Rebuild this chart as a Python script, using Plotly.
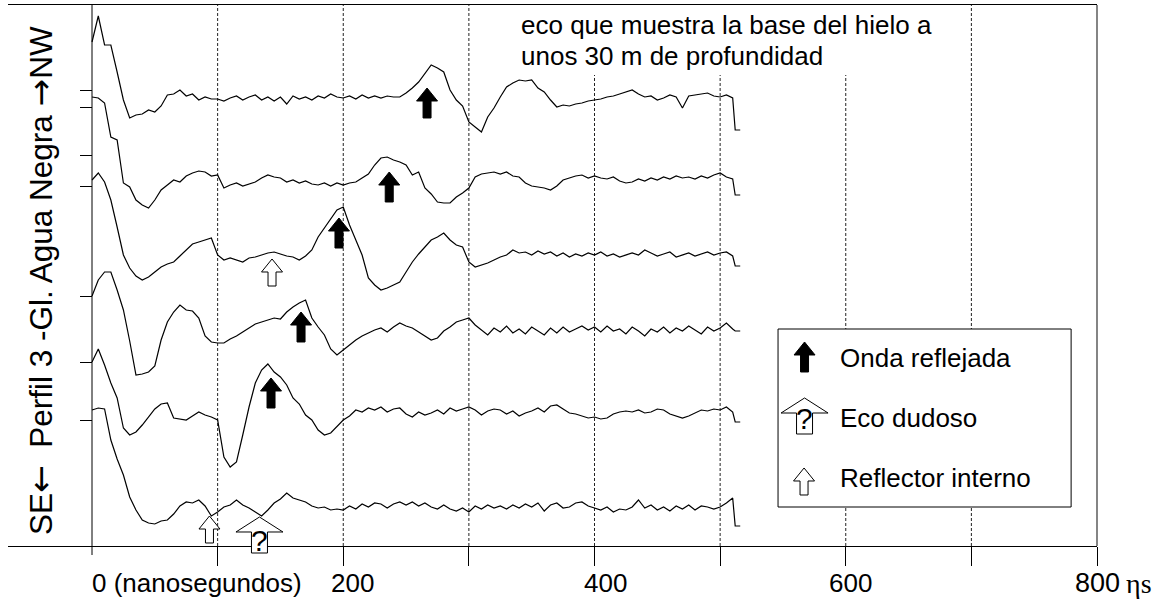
import plotly.graph_objects as go

# ---------------- data ----------------
time_ns = list(range(0, 511, 5)) + [512, 516]

amp_t1 = [56, 82, 53, 53, 26, -2, -20, -17, -16, -12,
          -14, -8, 3, 4, 8, 2, 4, -2, 1, -1,
          -1, -3, 0, 2, -2, 1, 3, -2, 1, -3,
          1, -6, 2, -1, 1, -2, 2, 0, 4, 1,
          0, 2, -1, 3, 0, 2, 0, 2, 1, 1,
          5, 10, 16, 25, 33, 30, 26, 8, -2, -8,
          -24, -29, -34, -19, -10, 1, 11, 15, 18, 17,
          18, 10, 6, -2, -9, -7, -8, -6, -5, -3,
          -2, -1, 1, 2, 4, 6, 8, 4, 1, 2,
          -2, 0, 3, 1, -10, 2, 3, 4, 5, 2,
          1, 3, 0, -32, -32]

amp_t2 = [85, 84, 79, 45, 42, -1, -5, -18, -23, -26,
          -18, -8, -3, 2, 0, 6, 9, 11, 10, 6,
          7, -6, -3, -1, -4, -2, 0, 4, 7, 5,
          4, 0, 2, -1, 1, -2, -3, -1, -4, -1,
          -3, -1, 0, 4, 8, 17, 24, 25, 22, 20,
          17, 7, 10, -6, -12, -20, -21, -21, -15, -11,
          -6, 5, 8, 9, 10, 8, 10, 6, 5, -1,
          -4, -5, -6, -8, -4, 2, 4, 6, 7, 4,
          6, 4, 3, 5, 1, -1, 0, 3, 1, 4,
          2, 5, 3, 6, 4, 5, 3, 6, 4, 7,
          9, 5, 3, -13, -13]

amp_t3 = [75, 82, 73, 55, 28, 0, -13, -21, -25, -22,
          -17, -12, -9, -7, -1, 5, 11, 13, 15, 17,
          0, -5, -3, -5, -7, -3, -2, 0, 2, 3,
          1, -1, -2, -5, -1, 5, 18, 27, 35, 45,
          48, 30, 15, 0, -23, -30, -35, -33, -30, -27,
          -17, -7, 1, 8, 15, 18, 22, 15, 10, 8,
          -7, -12, -10, -8, -5, -2, 0, 5, 2, 3,
          0, 4, 1, 3, -1, 2, -2, 1, -1, 2,
          0, 3, -1, 1, -2, 0, 2, 0, 5, 2,
          -1, 1, 3, -2, 0, 2, -1, 1, 3, 0,
          2, 3, -1, -11, -11]

amp_t4 = [34, 50, 58, 58, 40, 20, -11, -45, -44, -42,
          -36, -10, 8, 18, 25, 20, 19, 12, -6, -12,
          -13, -13, -9, -6, -2, 2, 6, 8, 10, 12,
          11, 18, 23, 27, 30, 12, 3, -5, -19, -25,
          -20, -15, -10, -6, -3, 0, 2, -2, 3, 7,
          4, 2, -2, -6, -10, -8, -1, 3, 8, 10,
          12, 5, 0, -5, 2, -2, 4, -3, 1, -4,
          3, -1, -5, 2, -3, 3, -2, 1, 4, 0,
          3, -2, 4, -1, 1, -4, 3, -1, -6, 1,
          -2, 3, -3, 2, -1, 4, 0, -4, 3, -1,
          2, 7, 1, -1, -1]

amp_t5 = [50, 63, 47, 29, 14, -16, -23, -20, -13, -5,
          3, 8, 9, -6, -7, -8, -4, 0, -3, -5,
          -8, -45, -55, -50, -23, 5, 29, 42, 48, 40,
          35, 27, 14, 8, -3, -8, -18, -23, -21, -15,
          -8, -4, 2, 0, 4, 2, 5, 0, 3, 4,
          -2, -5, 0, -3, -1, 2, -2, 4, 1, 3,
          5, 2, -3, 1, 3, 2, -2, 1, -4, -1,
          1, 4, 0, 6, 7, 3, -1, -2, -4, -6,
          -5, -7, -6, -2, 0, 1, 0, 2, -1, 0,
          3, 2, -2, -4, -6, -4, -1, 2, 1, 3,
          2, 5, 0, -10, -10]

amp_t6 = [97, 99, 98, 67, 48, 32, 10, -3, -13, -16,
          -17, -14, -13, -7, 1, 5, 4, 7, 1, -9,
          -5, 0, 2, 7, 2, -1, -5, -9, -3, 4,
          8, 14, 9, 7, 5, 1, -1, 0, -3, -2,
          -3, 1, -2, 3, 0, 4, 3, -1, 3, 5,
          2, 5, 1, 4, 0, -2, 2, -2, -4, -1,
          -5, 1, -2, 2, -1, 1, -2, 2, -1, 3,
          0, 4, -4, 2, 4, -1, 0, 4, 5, 1,
          -1, -3, 0, -5, -2, -3, 0, 7, -1, 2,
          -3, 0, -4, 1, -2, 2, -3, 1, 0, -2,
          0, 4, 9, -19, -19]

trace_offsets = [448, 364, 291, 216, 134, 39]
trace_amps = [amp_t1, amp_t2, amp_t3, amp_t4, amp_t5, amp_t6]

# arrow markers (time in ns, tip level in plot units)
reflected_t = [266.7, 236.6, 196.6, 166.4, 142.5]
reflected_y = [458, 374, 328, 234, 168]
internal_t = [143.3, 93.5]
internal_y = [287, 30]
doubtful_t = [133.3]
doubtful_y = [29]

marker_ticks = [456, 439, 391, 360, 250, 184, 126]
x_tickvals = [100, 200, 300, 400, 500, 600, 700, 800]
grid_full = [100, 200, 300, 700]
grid_short = [400, 500, 600]

legend_labels = ["Onda reflejada", "Eco dudoso", "Reflector interno"]
legend_label_y = [188, 128, 68]
note_lines = ["eco que muestra la base del hielo a", "unos 30 m de profundidad"]
ARROW_FONT = "font-family:DejaVu Sans;font-size:33px"
axis_title = (f"SE<span style=\"{ARROW_FONT}\">\u2190</span>  Perfil 3 -Gl. Agua Negra "
              f"<span style=\"{ARROW_FONT}\">\u2192</span>NW")

# ---------------- layout constants ----------------
W, H = 1160, 600
ML, MR, MT, MB = 8, 63, 5, 54
PW, PH = W - ML - MR, H - MT - MB
X0, X1 = -66.87, 800
Y0, Y1 = 0, 541
FONT = "Liberation Sans, Arial, sans-serif"


def to_paper(t, y):
    return (t - X0) / (X1 - X0), (y - Y0) / (Y1 - Y0)


def arrow_path(t, y, hw, hh, sw, total):
    xp, yp = to_paper(t, y)
    pts = [(0, 0), (hw, hh), (sw, hh), (sw, total), (-sw, total), (-sw, hh), (-hw, hh)]
    coords = [(xp + dx / PW, yp - dy / PH) for dx, dy in pts]
    return "M " + " L ".join(f"{a:.5f},{b:.5f}" for a, b in coords) + " Z"


fig = go.Figure()
for amps, off in zip(trace_amps, trace_offsets):
    fig.add_trace(go.Scatter(
        x=time_ns, y=[off + a for a in amps], mode="lines",
        line=dict(color="black", width=1.2), hoverinfo="skip", showlegend=False))

shapes = []
for g in grid_full:
    shapes.append(dict(type="line", xref="x", yref="paper", x0=g, x1=g, y0=0, y1=1,
                       line=dict(color="#222", width=1, dash="3px,2px"), layer="below"))
for g in grid_short:
    shapes.append(dict(type="line", xref="x", yref="paper", x0=g, x1=g, y0=0, y1=(546 - 75) / PH,
                       line=dict(color="#222", width=1, dash="3px,2px"), layer="below"))
shapes.append(dict(type="line", xref="x", yref="paper", x0=0, x1=0, y0=-9 / PH, y1=1,
                   line=dict(color="black", width=1)))
shapes.append(dict(type="line", xref="paper", yref="paper", x0=1, x1=1, y0=0, y1=1,
                   line=dict(color="#333", width=1.2)))
shapes.append(dict(type="rect", xref="x", yref="y", x0=546.1, x1=779.4, y0=39, y1=217,
                   line=dict(color="black", width=1), fillcolor="white", layer="above"))

annotations = []


def solid(t, y):
    shapes.append(dict(type="path", xref="paper", yref="paper",
                       path=arrow_path(t, y, 10.5, 13, 4, 30),
                       fillcolor="black", line=dict(color="black", width=1)))


def hollow(t, y):
    shapes.append(dict(type="path", xref="paper", yref="paper",
                       path=arrow_path(t, y, 10.5, 13, 4, 27),
                       fillcolor="white", line=dict(color="black", width=1)))


def doubt(t, y, q_off):
    shapes.append(dict(type="path", xref="paper", yref="paper",
                       path=arrow_path(t, y, 23.5, 15, 8, 36),
                       fillcolor="white", line=dict(color="black", width=1)))
    xp, yp = to_paper(t, y)
    annotations.append(dict(xref="paper", yref="paper", x=xp, y=yp - q_off / PH,
                            text="?", showarrow=False, xanchor="center", yanchor="middle",
                            font=dict(family=FONT, size=30, color="black")))


for t, y in zip(reflected_t, reflected_y):
    solid(t, y)
for t, y in zip(internal_t, internal_y):
    hollow(t, y)
for t, y in zip(doubtful_t, doubtful_y):
    doubt(t, y, 23)

# legend symbols
solid(567.2, 204)
doubt(567.2, 148, 21)
hollow(566.8, 78)
for lab, ly in zip(legend_labels, legend_label_y):
    annotations.append(dict(xref="x", yref="y", x=593.8, y=ly, text=lab, showarrow=False,
                            xanchor="left", yanchor="middle",
                            font=dict(family=FONT, size=26, color="black")))

for i, line in enumerate(note_lines):
    annotations.append(dict(xref="x", yref="y", x=339.9, y=[521, 490][i], text=line,
                            showarrow=False, xanchor="left", yanchor="middle",
                            font=dict(family=FONT, size=26, color="black")))

lab_y = (546 - 583) / PH
annotations.append(dict(xref="x", yref="paper", x=-1.5, y=lab_y, text="0 (nanosegundos)",
                        showarrow=False, xanchor="left", yanchor="middle",
                        font=dict(family=FONT, size=26, color="black")))
for t, txt in zip([207.5, 408.4, 603.4], ["200", "400", "600"]):
    annotations.append(dict(xref="x", yref="paper", x=t, y=lab_y, text=txt,
                            showarrow=False, xanchor="center", yanchor="middle",
                            font=dict(family=FONT, size=26, color="black")))
annotations.append(dict(xref="paper", yref="paper", x=1.0, y=lab_y, text="800",
                        showarrow=False, xanchor="center", yanchor="middle",
                        font=dict(family=FONT, size=27, color="black")))
annotations.append(dict(xref="paper", yref="paper", x=(1124 - ML) / PW, y=lab_y, text="\u03b7s",
                        showarrow=False, xanchor="left", yanchor="middle",
                        font=dict(family="Liberation Serif, Times New Roman, serif", size=28, color="black")))

annotations.append(dict(xref="x", yref="y", x=-41.4, y=265, text=axis_title, textangle=-90,
                        showarrow=False, xanchor="center", yanchor="middle",
                        font=dict(family=FONT, size=31.5, color="black")))

fig.update_layout(
    width=W, height=H,
    margin=dict(l=ML, r=MR, t=MT, b=MB, pad=0),
    paper_bgcolor="white", plot_bgcolor="white",
    showlegend=False,
    shapes=shapes, annotations=annotations,
    xaxis=dict(range=[X0, X1], showgrid=False, zeroline=False, showline=True,
               linecolor="black", linewidth=1, mirror=True,
               ticks="outside", tickvals=x_tickvals, ticklen=19, tickcolor="black",
               tickwidth=1, showticklabels=False, fixedrange=True),
    yaxis=dict(range=[Y0, Y1], showgrid=False, zeroline=False, showline=False,
               anchor="free", position=(0 - X0) / (X1 - X0),
               ticks="outside", tickvals=marker_ticks, ticklen=12, tickcolor="black",
               tickwidth=1, showticklabels=False, fixedrange=True),
)

fig.write_html("out.html", config={"displayModeBar": False},
               post_script="document.body.style.margin='0';document.body.style.overflow='hidden';")
